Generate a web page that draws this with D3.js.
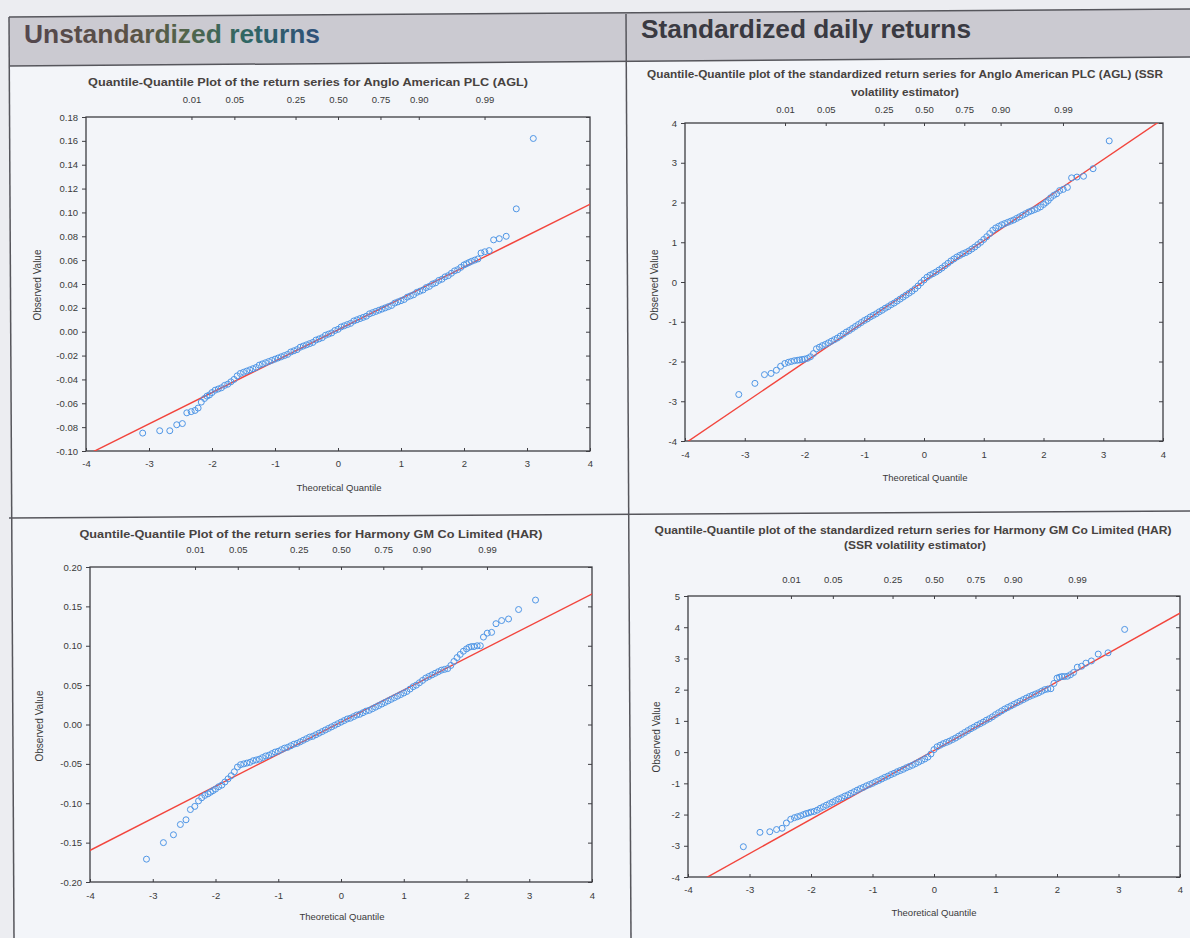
<!DOCTYPE html>
<html><head><meta charset="utf-8">
<script src="https://cdn.jsdelivr.net/npm/d3@7"></script>
<style>
html,body{margin:0;padding:0;background:#f3f5f9;}
svg{display:block;font-family:"Liberation Sans",Arial,Helvetica,sans-serif;}
</style></head><body>
<svg id="c" width="1190" height="938"></svg>
<script>
// ---------------- DATA ----------------
// theoretical normal quantiles shared by all four plots (same sample size)
const theoQ = [-3.10,-2.83,-2.67,-2.56,-2.47,-2.40,-2.33,-2.27,-2.22,-2.17,-2.12,-2.08,-2.04,-2.00,
 -1.95,-1.90,-1.85,-1.80,-1.75,-1.70,-1.65,-1.60,-1.55,-1.50,
 -1.45,-1.40,-1.35,-1.30,-1.25,-1.20,-1.15,-1.10,-1.05,-1.00,
 -0.95,-0.90,-0.85,-0.80,-0.75,-0.70,-0.65,-0.60,-0.55,-0.50,
 -0.45,-0.40,-0.35,-0.30,-0.25,-0.20,-0.15,-0.10,-0.05,0.00,
 0.05,0.10,0.15,0.20,0.25,0.30,0.35,0.40,0.45,0.50,
 0.55,0.60,0.65,0.70,0.75,0.80,0.85,0.90,0.95,1.00,
 1.05,1.10,1.15,1.20,1.25,1.30,1.35,1.40,1.45,1.50,
 1.55,1.60,1.65,1.70,1.75,1.80,1.85,1.90,1.95,
 2.00,2.04,2.08,2.12,2.17,2.22,2.27,2.33,2.40,2.47,2.56,2.67,2.83,3.10];

// Anglo American PLC (AGL) – unstandardized returns
const aglReturns = [-0.085,-0.083,-0.083,-0.078,-0.077,-0.068,-0.067,-0.066,-0.064,-0.059,-0.056,-0.054,-0.053,-0.051,
 -0.049,-0.048,-0.047,-0.045,-0.044,-0.042,-0.040,-0.037,-0.035,-0.034,
 -0.033,-0.032,-0.031,-0.030,-0.028,-0.027,-0.026,-0.025,-0.024,-0.023,
 -0.022,-0.021,-0.020,-0.019,-0.017,-0.016,-0.015,-0.013,-0.012,-0.011,
 -0.010,-0.009,-0.007,-0.006,-0.005,-0.003,-0.002,-0.001,0.001,0.002,
 0.004,0.005,0.006,0.007,0.009,0.010,0.011,0.012,0.013,0.015,
 0.016,0.017,0.018,0.019,0.020,0.021,0.022,0.024,0.025,0.026,
 0.027,0.029,0.030,0.031,0.033,0.034,0.035,0.037,0.038,0.040,
 0.041,0.043,0.044,0.046,0.047,0.049,0.051,0.052,0.054,
 0.056,0.057,0.058,0.059,0.060,0.061,0.066,0.067,0.068,0.077,0.078,0.080,0.103,0.162];

// Anglo American PLC (AGL) – standardized returns (SSR)
const aglStandardized = [-2.83,-2.55,-2.33,-2.30,-2.22,-2.12,-2.05,-2.02,-2.00,-1.98,-1.97,-1.96,-1.95,-1.94,
 -1.92,-1.88,-1.80,-1.68,-1.64,-1.60,-1.57,-1.53,-1.49,-1.45,
 -1.41,-1.36,-1.31,-1.26,-1.22,-1.17,-1.12,-1.07,-1.02,-0.97,
 -0.93,-0.88,-0.84,-0.80,-0.75,-0.71,-0.66,-0.62,-0.57,-0.53,
 -0.48,-0.43,-0.38,-0.33,-0.28,-0.23,-0.17,-0.10,-0.02,0.05,
 0.12,0.17,0.21,0.25,0.30,0.35,0.41,0.47,0.53,0.58,
 0.63,0.67,0.71,0.74,0.78,0.83,0.88,0.94,1.00,1.07,
 1.14,1.22,1.30,1.36,1.40,1.44,1.47,1.50,1.53,1.56,
 1.60,1.64,1.68,1.72,1.76,1.79,1.82,1.85,1.89,
 1.95,2.00,2.05,2.12,2.18,2.22,2.30,2.33,2.38,2.62,2.64,2.66,2.85,3.55];

// Harmony GM Co Limited (HAR) – unstandardized returns
const harReturns = [-0.171,-0.150,-0.140,-0.127,-0.121,-0.108,-0.104,-0.097,-0.093,-0.090,-0.088,-0.086,-0.084,-0.082,
 -0.079,-0.077,-0.073,-0.069,-0.065,-0.060,-0.054,-0.051,-0.050,-0.049,
 -0.048,-0.046,-0.045,-0.044,-0.042,-0.040,-0.039,-0.037,-0.035,-0.034,
 -0.032,-0.030,-0.029,-0.027,-0.025,-0.024,-0.022,-0.020,-0.018,-0.016,
 -0.015,-0.013,-0.011,-0.009,-0.007,-0.005,-0.003,-0.001,0.001,0.003,
 0.005,0.007,0.008,0.010,0.012,0.013,0.015,0.017,0.018,0.020,
 0.022,0.024,0.026,0.028,0.030,0.032,0.034,0.036,0.038,0.040,
 0.042,0.045,0.048,0.050,0.053,0.056,0.059,0.061,0.063,0.065,
 0.067,0.069,0.070,0.071,0.075,0.080,0.085,0.089,0.093,
 0.096,0.098,0.099,0.099,0.100,0.100,0.111,0.116,0.117,0.128,0.132,0.134,0.146,0.158];

// Harmony GM Co Limited (HAR) – standardized returns (SSR)
const harStandardized = [-3.03,-2.57,-2.55,-2.48,-2.44,-2.27,-2.15,-2.10,-2.07,-2.04,-2.00,-1.97,-1.95,-1.92,
 -1.90,-1.86,-1.80,-1.75,-1.70,-1.65,-1.60,-1.55,-1.50,-1.46,
 -1.41,-1.37,-1.32,-1.27,-1.22,-1.17,-1.13,-1.08,-1.04,-1.00,
 -0.95,-0.91,-0.86,-0.81,-0.77,-0.72,-0.68,-0.63,-0.59,-0.55,
 -0.50,-0.46,-0.42,-0.37,-0.32,-0.27,-0.22,-0.16,-0.06,0.08,
 0.17,0.22,0.27,0.31,0.35,0.40,0.45,0.51,0.57,0.63,
 0.69,0.75,0.80,0.86,0.91,0.96,1.02,1.07,1.13,1.20,
 1.26,1.32,1.38,1.43,1.48,1.53,1.58,1.63,1.68,1.73,
 1.78,1.82,1.86,1.90,1.95,2.00,2.02,2.03,2.20,
 2.37,2.40,2.42,2.42,2.43,2.48,2.55,2.72,2.75,2.85,2.92,3.14,3.18,3.93];

// reference lines: [intercept, slope]
const aglReturnsFit = [0.0016, 0.0263];
const aglStandardizedFit = [0.02, 1.02];
const harReturnsFit = [0.003, 0.0407];
const harStandardizedFit = [0.05, 1.10];

// axis ticks
const xTicks = [-4,-3,-2,-1,0,1,2,3,4];
const quantileLabels = ["0.01","0.05","0.25","0.50","0.75","0.90","0.99"];
const quantilePos = [-2.326,-1.645,-0.674,0,0.674,1.282,2.326];
const aglReturnsTicks = [-0.10,-0.08,-0.06,-0.04,-0.02,0.00,0.02,0.04,0.06,0.08,0.10,0.12,0.14,0.16,0.18];
const aglStandardizedTicks = [-4,-3,-2,-1,0,1,2,3,4];
const harReturnsTicks = [-0.20,-0.15,-0.10,-0.05,0.00,0.05,0.10,0.15,0.20];
const harStandardizedTicks = [-4,-3,-2,-1,0,1,2,3,4,5];

// texts
const headerLeft = "Unstandardized returns";
const headerRight = "Standardized daily returns";
const titleAGLReturns = ["Quantile-Quantile Plot of the return series for Anglo American PLC (AGL)"];
const titleAGLStd = ["Quantile-Quantile plot of the standardized return series for Anglo American PLC (AGL) (SSR","volatility estimator)"];
const titleHARReturns = ["Quantile-Quantile Plot of the return series for Harmony GM Co Limited (HAR)"];
const titleHARStd = ["Quantile-Quantile plot of the standardized return series for Harmony GM Co Limited (HAR)","(SSR volatility estimator)"];
const xAxisTitle = "Theoretical Quantile";
const yAxisTitle = "Observed Value";

// ---------------- DRAWING ----------------
const loc = d3.formatLocale({decimal:".",thousands:",",grouping:[3],currency:["$",""],minus:"-"});
const fmt2 = loc.format(".2f");
const fmtInt = loc.format("d");

const svg = d3.select("#c");
const defs = svg.append("defs");

svg.append("rect").attr("width",1190).attr("height",938).attr("fill","#f3f5f9");
svg.append("polygon").attr("points","0,0 1190,0 1190,9 9,17 14,938 0,938").attr("fill","#ecedf1");
svg.append("polygon").attr("points","9,17 1190,9 1190,57 9,66").attr("fill","#cbcad1");

const lineCol = "#56565c";
[[9,17,1190,9],[9,66,1190,57],[9,518,1190,511],[9,17,14,938],[626,14,631,938]].forEach(l=>{
  svg.append("line").attr("x1",l[0]).attr("y1",l[1]).attr("x2",l[2]).attr("y2",l[3])
    .attr("stroke",lineCol).attr("stroke-width",1.5);
});

const hg = defs.append("linearGradient").attr("id","hdrGrad").attr("gradientUnits","userSpaceOnUse")
  .attr("x1",24).attr("x2",320).attr("y1",0).attr("y2",0);
[[0,"#54474e"],[0.35,"#5b5146"],[0.55,"#52654a"],[0.75,"#2f6764"],[1,"#2f4f7a"]].forEach(s=>
  hg.append("stop").attr("offset",s[0]).attr("stop-color",s[1]));

svg.append("text").attr("x",24).attr("y",43).text(headerLeft)
  .attr("fill","url(#hdrGrad)").style("font-size","26px").style("font-weight","bold")
  .attr("textLength",296).attr("lengthAdjust","spacingAndGlyphs");
svg.append("text").attr("x",641).attr("y",38).text(headerRight)
  .attr("fill","#3a3a42").style("font-size","26px").style("font-weight","bold")
  .attr("textLength",330).attr("lengthAdjust","spacingAndGlyphs");

const panels = [
  {id:"p1", obs:aglReturns, fit:aglReturnsFit, yTicks:aglReturnsTicks, yDomain:[-0.10,0.18], fmt:fmt2,
   box:[86,117,590,451], title:titleAGLReturns, titleX:[308], titleY:[86], titleW:[440],
   qPad:13.6, xPad:9.5, yLabX:38, yLabY:285, xLabX:339, xLabY:491},
  {id:"p2", obs:aglStandardized, fit:aglStandardizedFit, yTicks:aglStandardizedTicks, yDomain:[-4,4], fmt:fmtInt,
   box:[685,123,1163,441], title:titleAGLStd, titleX:[905,905], titleY:[78,96], titleW:[516,108],
   qPad:9.6, xPad:10, yLabX:655, yLabY:285, xLabX:925, xLabY:481},
  {id:"p3", obs:harReturns, fit:harReturnsFit, yTicks:harReturnsTicks, yDomain:[-0.20,0.20], fmt:fmt2,
   box:[90,567,592,882], title:titleHARReturns, titleX:[311], titleY:[538], titleW:[463],
   qPad:13.6, xPad:10.5, yLabX:40, yLabY:726, xLabX:342, xLabY:920},
  {id:"p4", obs:harStandardized, fit:harStandardizedFit, yTicks:harStandardizedTicks, yDomain:[-4,5], fmt:fmtInt,
   box:[688,596,1180,877], title:titleHARStd, titleX:[913,915], titleY:[534,549], titleW:[517,142],
   qPad:12.6, xPad:9.5, yLabX:657, yLabY:737, xLabX:934, xLabY:916}
];

panels.forEach(p=>{
  const [x0,y0,x1,y1] = p.box;
  const x = d3.scaleLinear().domain([-4,4]).range([x0,x1]);
  const y = d3.scaleLinear().domain(p.yDomain).range([y1,y0]);
  const g = svg.append("g");

  defs.append("clipPath").attr("id","clip-"+p.id).append("rect")
    .attr("x",x0).attr("y",y0).attr("width",x1-x0).attr("height",y1-y0);

  // titles
  p.title.forEach((t,i)=>{
    g.append("text").attr("x",p.titleX[i]).attr("y",p.titleY[i]).attr("text-anchor","middle")
      .text(t).attr("fill","#47423f").style("font-size","10.5px").style("font-weight","bold")
      .attr("textLength",p.titleW[i]).attr("lengthAdjust","spacingAndGlyphs");
  });

  // axes
  g.append("g").attr("transform",`translate(${x0},0)`)
    .call(d3.axisLeft(y).tickValues(p.yTicks).tickSize(4).tickPadding(4).tickFormat(p.fmt));
  g.append("g").attr("transform",`translate(${x1},0)`)
    .call(d3.axisRight(y).tickValues(p.yTicks).tickSize(-4).tickFormat(""));
  g.append("g").attr("transform",`translate(0,${y1})`)
    .call(d3.axisBottom(x).tickValues(xTicks).tickSize(-3).tickPadding(p.xPad).tickFormat(fmtInt));
  g.append("g").attr("transform",`translate(0,${y0})`)
    .call(d3.axisTop(x).tickValues(quantilePos).tickSize(-3).tickPadding(p.qPad)
      .tickFormat((d,i)=>quantileLabels[i]));
  g.selectAll(".domain").remove();
  g.selectAll(".tick line").attr("stroke","#3f3f44").attr("stroke-width",1);
  g.selectAll(".tick text").attr("fill","#3a3a3a").style("font-size","9.5px")
    .style("font-family",'"Liberation Sans",Arial,sans-serif');

  // plot box
  g.append("rect").attr("x",x0).attr("y",y0).attr("width",x1-x0).attr("height",y1-y0)
    .attr("fill","none").attr("stroke","#3d3d42").attr("stroke-width",1.3);

  // reference line
  g.append("line").attr("clip-path",`url(#clip-${p.id})`)
    .attr("x1",x(-4.5)).attr("y1",y(p.fit[0]+p.fit[1]*-4.5))
    .attr("x2",x(4.5)).attr("y2",y(p.fit[0]+p.fit[1]*4.5))
    .attr("stroke","#f2453d").attr("stroke-width",1.4);

  // points
  g.append("g").selectAll("circle").data(theoQ).join("circle")
    .attr("cx",d=>x(d)).attr("cy",(d,i)=>y(p.obs[i])).attr("r",3)
    .attr("fill","none").attr("stroke","#4f96e6").attr("stroke-width",1);

  // axis titles
  g.append("text").attr("x",p.xLabX).attr("y",p.xLabY).attr("text-anchor","middle")
    .text(xAxisTitle).attr("fill","#3a3a3a").style("font-size","9.5px");
  g.append("text").attr("transform",`translate(${p.yLabX},${p.yLabY}) rotate(-90)`)
    .attr("text-anchor","middle").attr("dominant-baseline","middle")
    .text(yAxisTitle).attr("fill","#3a3a3a").style("font-size","10px");
});
</script>
</body></html>
